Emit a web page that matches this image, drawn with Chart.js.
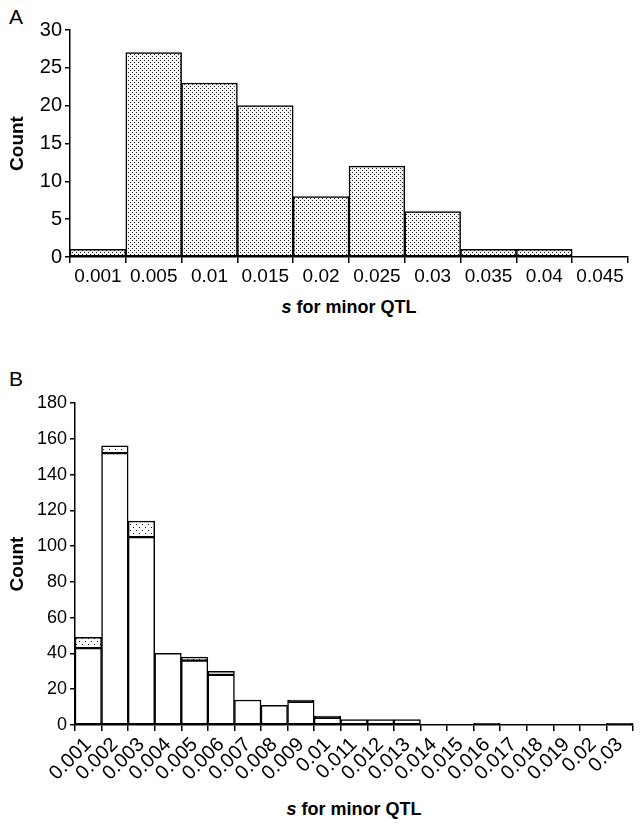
<!DOCTYPE html>
<html>
<head>
<meta charset="utf-8">
<script src="https://cdn.jsdelivr.net/npm/chart.js@4.4.1/dist/chart.umd.min.js"></script>
<style>
  body { margin: 0; background: #fff; font-family: "Liberation Sans", Arial, sans-serif; }
  #page { position: relative; width: 642px; height: 826px; }
  .panel { position: absolute; left: 0; width: 642px; }
  .tag { position: absolute; left: 9px; font-size: 21px; color: #000; }
  .xtitle { position: absolute; font-size: 18px; font-weight: bold; color: #000; transform: translateX(-50%); white-space: nowrap; }
</style>
</head>
<body>
<div id="page">
  <div class="tag" style="top:5px;">A</div>
  <div class="panel" style="top:0; height:290px;"><canvas id="chartA"></canvas></div>
  <div class="xtitle" style="left:349px; top:297px;"><i>s</i> for minor QTL</div>

  <div class="tag" style="top:367px;">B</div>
  <div class="panel" style="top:370px; height:420px;"><canvas id="chartB"></canvas></div>
  <div class="xtitle" style="left:354px; top:799px;"><i>s</i> for minor QTL</div>
</div>
<script>
// panel A
const catsA = ['0.001', '0.005', '0.01', '0.015', '0.02', '0.025', '0.03', '0.035', '0.04', '0.045'];
const countA = [1, 27, 23, 20, 8, 12, 6, 1, 1, null];
const ticksA = { max: 30, step: 5 };

// panel B
const catsB = ['0.001', '0.002', '0.003', '0.004', '0.005', '0.006', '0.007', '0.008', '0.009', '0.01',
               '0.011', '0.012', '0.013', '0.014', '0.015', '0.016', '0.017', '0.018', '0.019', '0.02', '0.03'];
const plainB = [43, 152, 105, 40, 36, 28, 14, 11, 13, 4, 3, 3, 3, null, null, null, null, null, null, null, null];
const dottedB = [6, 4, 9, null, 2, 2, null, null, null, null, null, null, null, null, null, null, null, null, null, null, null];
const solidB = [null, null, null, null, null, null, null, null, 1, 1, null, null, null, null, null, 1, null, null, null, null, 1];
const ticksB = { max: 180, step: 20 };

const FONT = '"Liberation Sans", Arial, sans-serif';

function dots(w, h, pts, bg, fg) {
    const c = document.createElement('canvas');
    c.width = w;
    c.height = h;
    const g = c.getContext('2d');
    g.fillStyle = bg;
    g.fillRect(0, 0, w, h);
    g.fillStyle = fg;
    pts.forEach(p => g.fillRect(p[0], p[1], 1, 1));
    return g.createPattern(c, 'repeat');
}

const denseDots = dots(4, 4, [[0, 0], [2, 2]], '#f4f4f4', '#222');
const sparseDots = dots(6, 6, [[1, 1], [4, 4]], '#ffffff', '#111');

function axes(yt, xHeight, yWidth, rotate, xSize, ySize) {
    return {
        x: {
            stacked: true,
            border: { color: '#000', width: 1.5 },
            grid: { display: true, drawOnChartArea: false, drawTicks: true, tickLength: 6, color: '#000', lineWidth: 1.5 },
            ticks: {
                color: '#000',
                font: { family: FONT, size: xSize },
                autoSkip: false,
                maxRotation: rotate,
                minRotation: rotate,
                padding: 2,
            },
            afterFit: (scale) => { scale.height = xHeight; },
        },
        y: {
            stacked: true,
            min: 0,
            max: yt.max,
            border: { color: '#000', width: 1.5 },
            grid: { display: true, drawOnChartArea: false, drawTicks: true, tickLength: 5, color: '#000', lineWidth: 1.5 },
            ticks: { stepSize: yt.step, color: '#000', font: { family: FONT, size: ySize }, padding: 3 },
            title: { display: true, text: 'Count', color: '#000', font: { family: FONT, size: 19, weight: 'bold' }, padding: { top: 6, bottom: 0 } },
            afterFit: (scale) => { scale.width = yWidth; },
        },
    };
}

function bar(label, data, fill) {
    return {
        label,
        data,
        backgroundColor: fill,
        borderColor: '#000',
        borderWidth: 1.5,
        borderSkipped: false,
        barPercentage: 1,
        categoryPercentage: 1,
    };
}

new Chart(document.getElementById('chartA'), {
    type: 'bar',
    data: {
        labels: catsA,
        datasets: [bar('Count', countA, denseDots)],
    },
    options: {
        responsive: true,
        maintainAspectRatio: false,
        animation: false,
        layout: { padding: { top: 30, right: 14, bottom: 0, left: 0 } },
        plugins: { legend: { display: false }, tooltip: { enabled: false } },
        scales: axes(ticksA, 33, 70, 0, 19, 20),
    },
});

new Chart(document.getElementById('chartB'), {
    type: 'bar',
    data: {
        labels: catsB,
        datasets: [
            bar('plain', plainB, '#ffffff'),
            bar('dotted', dottedB, sparseDots),
            bar('solid', solidB, '#000000'),
        ],
    },
    options: {
        responsive: true,
        maintainAspectRatio: false,
        animation: false,
        layout: { padding: { top: 33, right: 9, bottom: 0, left: 0 } },
        plugins: { legend: { display: false }, tooltip: { enabled: false } },
        scales: axes(ticksB, 65, 75, 45, 20, 18),
    },
});
</script>
</body>
</html>
